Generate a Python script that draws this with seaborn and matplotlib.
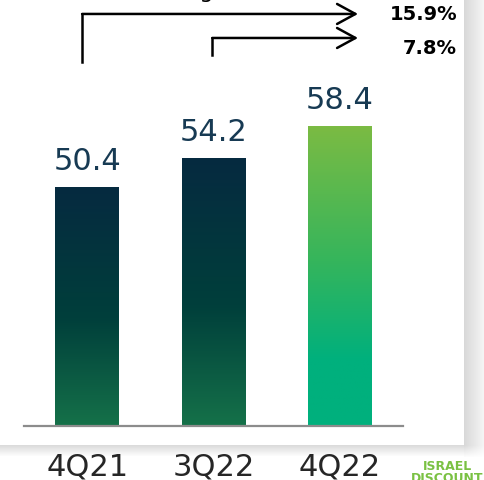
import numpy as np
import pandas as pd
import matplotlib
matplotlib.use("Agg")
import matplotlib.pyplot as plt
from matplotlib.colors import LinearSegmentedColormap
import seaborn as sns

# Quarterly values
quarters = ["4Q21", "3Q22", "4Q22"]
values = [50.4, 54.2, 58.4]

# Growth callouts (long arrow from 4Q21, short arrow from 3Q22)
growth_labels = ["15.9%", "7.8%"]
header_text = "Change"

W, H, DPI = 484, 480, 100
Y_MIN, Y_MAX = 19.06, 74.93

sns.set_theme(style="white")
plt.rcParams["font.family"] = ["DejaVu Sans"]

fig = plt.figure(figsize=(W / DPI, H / DPI), dpi=DPI, facecolor="white")

# --- card background with soft drop shadow --------------------------------
bg = fig.add_axes([0, 0, 1, 1], zorder=-5)
yy, xx = np.mgrid[0:H, 0:W].astype(float)
panel_r, panel_b = 464.0, 445.0
shade = np.zeros((H, W))
right = (xx >= panel_r)
shade_r = 0.15 * np.clip(1 - (xx - panel_r) / 26, 0, 1)
fade_r = np.clip(1 - (yy - panel_b) / 12, 0, 1)
shade = np.where(right, shade_r * fade_r, shade)
bottom = (yy >= panel_b) & (xx < panel_r)
shade_b = 0.14 * np.clip(1 - (yy - panel_b) / 11, 0, 1)
shade = np.where(bottom, np.maximum(shade, shade_b), shade)
img = np.dstack([1 - shade] * 3)
bg.imshow(img, extent=(0, W, H, 0), aspect="auto", interpolation="bilinear")
bg.set_xlim(0, W)
bg.set_ylim(H, 0)
bg.axis("off")

# --- bar chart -------------------------------------------------------------
ax = fig.add_axes([24 / W, (H - 426) / H, 379 / W, 426 / H])
ax.patch.set_alpha(0)

df = pd.DataFrame({"quarter": quarters, "value": values})
sns.barplot(data=df, x="quarter", y="value", ax=ax, width=0.506,
            color="#0b3a3f", saturation=1, errorbar=None)
ax.set_ylim(Y_MIN, Y_MAX)
ax.set_xlim(-0.5, 2.5)

dark_cmap = LinearSegmentedColormap.from_list(
    "dark", [(0.0, "#062a40"), (0.55, "#003f3b"), (1.0, "#157149")])
bright_cmap = LinearSegmentedColormap.from_list(
    "bright", [(0.0, "#7bbb43"), (0.45, "#35b55c"), (0.78, "#00b07d"), (1.0, "#00b07d")])

grad = np.linspace(0, 1, 256).reshape(-1, 1)
for i, patch in enumerate(ax.patches):
    x0 = patch.get_x()
    x1 = x0 + patch.get_width()
    top = patch.get_y() + patch.get_height()
    cmap = bright_cmap if i == len(ax.patches) - 1 else dark_cmap
    im = ax.imshow(grad, cmap=cmap, aspect="auto",
                   extent=(x0, x1, Y_MIN, top), origin="upper", zorder=2)
    im.set_clip_path(patch)
    patch.set_facecolor("none")
    patch.set_edgecolor("none")
    ax.annotate(f"{values[i]}", xy=(x0 + patch.get_width() / 2, top),
                xytext=(0, 12.5), textcoords="offset points",
                ha="center", va="baseline", fontsize=22, color="#173a53")

ax.set_xlim(-0.5, 2.5)
ax.set_ylim(Y_MIN, Y_MAX)

for s in ["top", "right", "left"]:
    ax.spines[s].set_visible(False)
ax.spines["bottom"].set_color("#8c8c8c")
ax.spines["bottom"].set_linewidth(1.6)
ax.set_yticks([])
ax.set_xlabel("")
ax.set_ylabel("")
ax.tick_params(axis="x", length=0, pad=19, labelsize=22, labelcolor="#262626")

# --- growth arrows ---------------------------------------------------------
tip_x = 2.144
arrow_style = dict(arrowstyle="->,head_length=1.1,head_width=0.6",
                   lw=1.8, color="black", shrinkA=0, shrinkB=0)
starts = [(-0.04, 66.8, 73.1), (0.99, 67.7, 69.95)]
for sx, y0, y1 in starts:
    ax.plot([sx, sx], [y0, y1], color="black", lw=1.8, clip_on=False,
            solid_capstyle="projecting")
    ax.annotate("", xy=(tip_x, y1), xytext=(sx, y1),
                arrowprops=arrow_style, annotation_clip=False)

# percentage labels in figure pixels
for lab, ypx in zip(growth_labels, [14, 48]):
    fig.text(457 / W, 1 - ypx / H, lab, ha="right", va="center",
             fontsize=14, fontweight="bold", color="black")

fig.text(185 / W, 1 + 2 / H, header_text, ha="center", va="baseline",
         fontsize=16, color="black")

# --- logo wordmark -----------------------------------------------------------
fig.text(447 / W, 1 - 470 / H, "ISRAEL", ha="center", va="baseline",
         fontsize=9, fontweight="bold", color="#7ac143")
fig.text(447 / W, 1 - 482 / H, "DISCOUNT", ha="center", va="baseline",
         fontsize=9, fontweight="bold", color="#7ac143")

fig.savefig("out.png", dpi=DPI, facecolor="white")
